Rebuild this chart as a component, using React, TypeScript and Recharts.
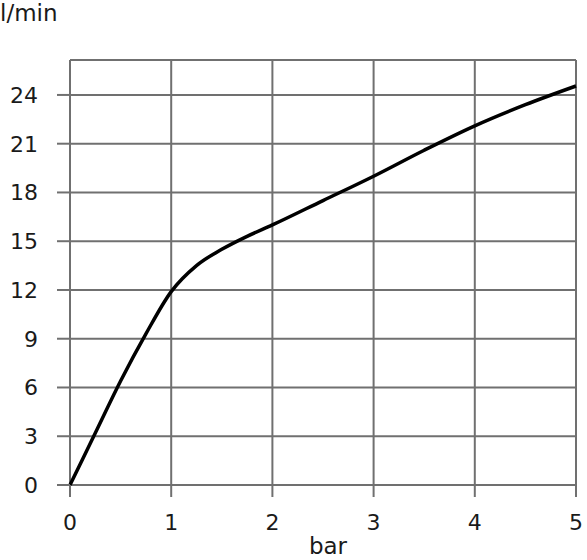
import React from 'react';
import { LineChart, Line, XAxis, YAxis, CartesianGrid } from 'recharts';

const pressureBar = [0, 0.25, 0.5, 0.75, 1, 1.25, 1.5, 1.75, 2, 2.5, 3, 3.5, 4, 4.5, 5];
const flowLpm = [0, 3.2, 6.4, 9.3, 11.9, 13.5, 14.5, 15.3, 16, 17.5, 19, 20.6, 22.1, 23.4, 24.55];
const xTicks = [0, 1, 2, 3, 4, 5];
const yTicks = [0, 3, 6, 9, 12, 15, 18, 21, 24];
const xLabel = 'bar';
const yLabel = 'l/min';

const data = pressureBar.map((x, i) => ({ x, y: flowLpm[i] }));

const GRID = '#707070';
const FONT = '"DejaVu Sans", Verdana, sans-serif';
const tickStyle = { fontSize: 22, fill: '#1a1a1a', fontFamily: FONT };

export default function App() {
  return (
    <div style={{ position: 'absolute', left: 0, top: 0, width: 587, height: 560, background: '#fff' }}>
      <LineChart
        width={587}
        height={560}
        data={data}
        margin={{ top: 60, right: 11, bottom: 0, left: 0 }}
      >
        <CartesianGrid stroke={GRID} strokeWidth={2} />
        <XAxis
          dataKey="x"
          type="number"
          domain={[0, 5]}
          ticks={xTicks}
          height={75}
          axisLine={false}
          tickLine={{ stroke: GRID, strokeWidth: 2 }}
          tickSize={12}
          tickMargin={17}
          tick={tickStyle}
          interval={0}
        />
        <YAxis
          type="number"
          domain={[0, 26.15]}
          ticks={yTicks}
          width={70}
          axisLine={false}
          tickLine={{ stroke: GRID, strokeWidth: 2 }}
          tickSize={13}
          tickMargin={19}
          tick={tickStyle}
          interval={0}
        />
        <Line
          dataKey="y"
          type="monotone"
          stroke="#000"
          strokeWidth={3.5}
          dot={false}
          isAnimationActive={false}
        />
      </LineChart>
      <div
        style={{
          position: 'absolute',
          left: 0,
          top: 0,
          fontFamily: FONT,
          fontSize: 23,
          lineHeight: '26px',
          color: '#1a1a1a',
        }}
      >
        {yLabel}
      </div>
      <div
        style={{
          position: 'absolute',
          left: 288,
          width: 80,
          textAlign: 'center',
          top: 533,
          fontFamily: FONT,
          fontSize: 23,
          lineHeight: '26px',
          color: '#1a1a1a',
        }}
      >
        {xLabel}
      </div>
    </div>
  );
}
